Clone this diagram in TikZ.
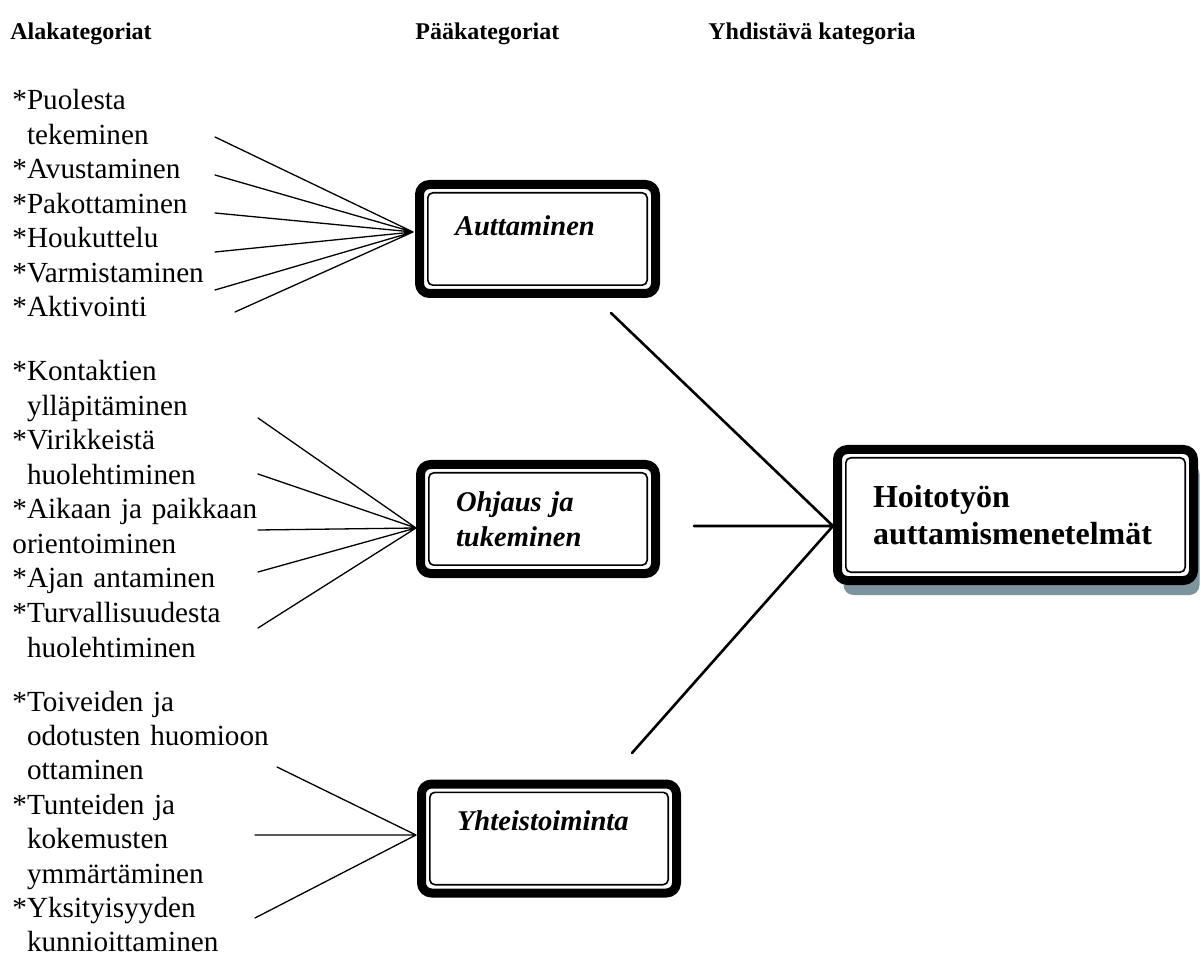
\documentclass[tikz,border=0pt]{standalone}
\usepackage{fontspec}
\setmainfont{Liberation Serif}
\usetikzlibrary{shadows}
\definecolor{varjo}{RGB}{125,148,158}
\tikzset{
  otsikko/.style={anchor=base west,inner sep=0pt,font=\fontsize{12}{14}\selectfont\bfseries},
  ala/.style={anchor=base west,inner sep=0pt,align=left,text width=250pt,font=\fontsize{14.6}{17.25}\selectfont},
  paa/.style={draw,fill=white,line width=4.5pt,rounded corners=5pt,inner xsep=17.75pt,inner ysep=0pt,align=left,minimum height=54.5pt,font=\fontsize{14.3}{17.25}\selectfont\bfseries\itshape},
  kehys/.style={line width=.8pt,rounded corners=2.5pt},
  viiva/.style={line width=.65pt},
  paksu/.style={line width=1.3pt},
}
\begin{document}
\begin{tikzpicture}[x=.5pt,y=-.5pt,line join=round,line cap=round]
\useasboundingbox (0,0) rectangle (1201,957);
\path
(215,137) coordinate (a1)
(215,175) coordinate (a2)
(215,213) coordinate (a3)
(215,252) coordinate (a4)
(215,290) coordinate (a5)
(235,312) coordinate (a6)
(413,232) coordinate (K1)
(258,418) coordinate (b1)
(258,474) coordinate (b2)
(258,530) coordinate (b3)
(258,572) coordinate (b4)
(258,628) coordinate (b5)
(416,528) coordinate (K2)
(277,767) coordinate (c1)
(255,835) coordinate (c2)
(255,918) coordinate (c3)
(416,835) coordinate (K3)
(611,313) coordinate (d1)
(694,526) coordinate (d2)
(632,753) coordinate (d3)
(833,526) coordinate (K4)
;
\node[otsikko] (t1) at (10,40) {Alakategoriat};
\node[otsikko] (t2) at (415,40) {Pääkategoriat};
\node[otsikko] (t3) at (708,40) {Yhdistävä kategoria};

\node[ala] (s1) at (12,110) {*Puolesta\\\phantom{*}tekeminen};
\node[ala] (s2) at (12,179) {*Avustaminen};
\node[ala] (s3) at (12,213.5) {*Pakottaminen};
\node[ala] (s4) at (12,248) {*Houkuttelu};
\node[ala] (s5) at (12,282.5) {*Varmistaminen};
\node[ala] (s6) at (12,317) {*Aktivointi};

\node[ala] (o1) at (12,381) {*Kontaktien\\\phantom{*}ylläpitäminen};
\node[ala] (o2) at (12,450) {*Virikkeistä\\\phantom{*}huolehtiminen};
\node[ala] (o3) at (12,519) {*Aikaan ja paikkaan\\orientoiminen};
\node[ala] (o4) at (12,588) {*Ajan antaminen};
\node[ala] (o5) at (12,622.5) {*Turvallisuudesta\\\phantom{*}huolehtiminen};

\node[ala] (y1) at (12,711) {*Toiveiden ja\\\phantom{*}odotusten huomioon\\\phantom{*}ottaminen};
\node[ala] (y2) at (12,814) {*Tunteiden ja\\\phantom{*}kokemusten\\\phantom{*}ymmärtäminen};
\node[ala] (y3) at (12,917) {*Yksityisyyden\\\phantom{*}kunnioittaminen};

\draw[viiva]
(a1)--(K1) (a2)--(K1) (a3)--(K1) (a4)--(K1) (a5)--(K1) (a6)--(K1)
(b1)--(K2) (b2)--(K2) (b3)--(K2) (b4)--(K2) (b5)--(K2)
(c1)--(K3) (c2)--(K3) (c3)--(K3)
;
\draw[paksu]
(d1)--(K4) (d2)--(K4) (d3)--(K4)
;

\node[paa,text width=82.5pt,text depth=13pt] (auttaminen) at (537.5,239) {Auttaminen};
\node[paa,text width=82pt] (ohjaus) at (538,519) {Ohjaus ja\\tukeminen};
\node[paa,text width=92pt,text depth=17.5pt] (yhteis) at (549,838.5) {Yhteistoiminta};
\node[paa,text width=142.5pt,minimum height=65.5pt,font=\fontsize{16}{18.5}\selectfont\bfseries,
  drop shadow={shadow xshift=3pt,shadow yshift=-7.25pt,fill=varjo,opacity=1}] (hoito) at (1015.5,515) {Hoitotyön\\auttamismenetelmät};

\foreach \b in {auttaminen,ohjaus,yhteis,hoito}
\draw[kehys] ([shift={(6.4pt,-6.4pt)}]\b.north west) rectangle ([shift={(-6.4pt,6.4pt)}]\b.south east);
\end{tikzpicture}
\end{document}
